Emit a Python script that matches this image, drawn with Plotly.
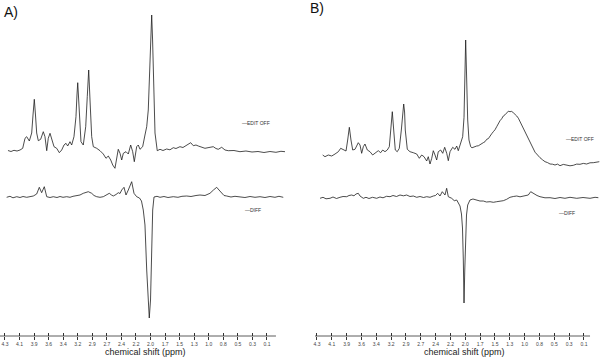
import plotly.graph_objects as go

FONT = "Liberation Sans, Arial, sans-serif"

# ---------------- data ----------------
tick_pos = [4.300, 4.067, 3.833, 3.600, 3.367, 3.133, 2.900, 2.667, 2.433, 2.200,
            1.967, 1.733, 1.500, 1.267, 1.033, 0.800, 0.567, 0.333, 0.100]
tick_labels = ["4.3", "4.1", "3.9", "3.6", "3.4", "3.2", "2.9", "2.7", "2.4", "2.2",
               "2.0", "1.7", "1.5", "1.3", "1.0", "0.8", "0.5", "0.3", "0.1"]

# Panel A, EDIT OFF spectrum (ppm, a.u.)
a_edit_ppm = [4.252, 4.204, 4.156, 4.107, 4.059, 4.016, 3.979, 3.952, 3.910, 3.872,
              3.851, 3.830, 3.811, 3.792, 3.766, 3.728, 3.686, 3.659, 3.631, 3.606,
              3.578, 3.551, 3.514, 3.471, 3.429, 3.391, 3.354, 3.322, 3.295, 3.258,
              3.231, 3.194, 3.162, 3.146, 3.134, 3.123, 3.109, 3.082, 3.045, 3.006,
              2.981, 2.958, 2.937, 2.910, 2.884, 2.830, 2.777, 2.724, 2.681, 2.644,
              2.605, 2.573, 2.537, 2.509, 2.484, 2.456, 2.429, 2.403, 2.360, 2.323,
              2.285, 2.253, 2.227, 2.189, 2.163, 2.136, 2.093, 2.056, 2.028, 2.003,
              1.984, 1.964, 1.948, 1.934, 1.919, 1.895, 1.859, 1.815, 1.767, 1.708,
              1.655, 1.602, 1.559, 1.495, 1.447, 1.387, 1.323, 1.281, 1.238, 1.201,
              1.142, 1.094, 1.030, 0.961, 0.918, 0.881, 0.826, 0.773, 0.720, 0.629,
              0.533, 0.437, 0.340, 0.244, 0.148, 0.052, -0.044, -0.124, -0.189]
a_edit_int = [0.5, -0.5, 0.7, 0.0, 1.0, 2.7, 12.7, 14.3, 10.0, 18.0,
              36.0, 51.7, 36.0, 18.0, 10.3, 11.7, 19.3, 14.3, 0.3, 12.7,
              17.7, 12.7, 4.3, 2.7, -1.7, 1.0, 6.0, 7.7, 5.0, 9.3,
              6.0, 14.3, 34.3, 56.0, 68.3, 56.0, 37.7, 9.3, 6.0, 24.3,
              54.3, 81.0, 51.0, 14.3, 4.3, 2.7, 0.3, -3.0, -7.3, -5.0,
              -9.0, -14.0, -17.3, -9.0, 1.7, -2.3, -9.0, -2.3, -0.7, -3.0,
              6.0, -0.7, -10.7, 4.3, 6.0, 1.7, 4.3, 16.0, 24.3, 41.0,
              81.0, 116.0, 136.0, 111.0, 68.0, 18.0, 0.3, 1.7, 0.5, 2.0,
              1.2, 3.3, 2.5, 4.3, 3.5, 6.0, 8.3, 5.3, 6.0, 5.0,
              3.5, 2.7, 3.5, 4.3, 2.5, 1.7, 3.7, 1.0, 0.3, 0.5,
              -0.7, 0.0, -1.0, -0.5, -1.5, -0.5, -1.3, -0.3, -0.7]

# Panel A, DIFF spectrum
a_diff_ppm = [4.273, 4.220, 4.172, 4.112, 4.059, 4.011, 3.952, 3.899, 3.846, 3.792,
              3.750, 3.712, 3.670, 3.631, 3.578, 3.526, 3.466, 3.418, 3.370, 3.311,
              3.258, 3.210, 3.151, 3.098, 3.045, 3.001, 2.965, 2.910, 2.873, 2.830,
              2.777, 2.724, 2.673, 2.628, 2.593, 2.564, 2.520, 2.484, 2.456, 2.429,
              2.392, 2.360, 2.323, 2.296, 2.269, 2.232, 2.189, 2.144, 2.112, 2.083,
              2.056, 2.028, 2.008, 1.987, 1.967, 1.956, 1.943, 1.932, 1.911, 1.863,
              1.815, 1.751, 1.687, 1.602, 1.527, 1.463, 1.387, 1.318, 1.238, 1.174,
              1.094, 1.014, 0.958, 0.906, 0.869, 0.826, 0.789, 0.746, 0.677, 0.613,
              0.533, 0.453, 0.372, 0.292, 0.212, 0.132, 0.052, -0.028, -0.092, -0.161]
a_diff_int = [-0.3, 0.7, -0.8, 0.3, -0.5, 0.5, -0.3, 0.5, 1.0, 3.0,
              9.7, 4.3, 10.3, 0.3, -0.5, 0.3, -0.5, 0.5, -0.3, 0.3,
              -0.3, 0.7, 1.0, 2.0, 3.7, 4.5, 5.3, 3.7, 1.5, 0.3,
              -0.3, 0.3, 2.0, 3.7, 2.0, 1.0, 2.5, 4.3, 3.5, 7.0,
              9.7, 2.0, 7.0, 12.0, 15.3, 3.7, 0.3, -1.0, -4.0, -13.0,
              -28.0, -73.0, -98.0, -121.0, -103.0, -73.0, -38.0, -13.0, 0.0, 0.7,
              -0.3, 0.5, -0.5, 0.3, -0.3, 0.7, 1.0, 0.5, 1.5, 2.0,
              1.5, 3.7, 7.0, 9.7, 7.0, 3.7, 1.5, 1.0, 0.0, 0.7,
              0.3, -0.5, 0.5, -0.3, 0.3, -0.5, 0.5, -0.3, 0.7, -0.3]

# Panel B, EDIT OFF spectrum
b_edit_ppm = [4.210, 4.174, 4.122, 4.068, 4.016, 3.964, 3.927, 3.886, 3.843, 3.817,
              3.791, 3.765, 3.738, 3.702, 3.650, 3.623, 3.597, 3.571, 3.545, 3.508,
              3.466, 3.424, 3.387, 3.336, 3.298, 3.266, 3.230, 3.194, 3.162, 3.135,
              3.115, 3.093, 3.068, 3.037, 3.005, 2.973, 2.951, 2.936, 2.922, 2.911,
              2.879, 2.837, 2.785, 2.731, 2.690, 2.653, 2.616, 2.574, 2.549, 2.522,
              2.495, 2.470, 2.443, 2.417, 2.392, 2.354, 2.322, 2.291, 2.259, 2.234,
              2.207, 2.165, 2.129, 2.102, 2.077, 2.039, 2.008, 1.987, 1.972, 1.961,
              1.945, 1.929, 1.909, 1.882, 1.862, 1.841, 1.815, 1.788, 1.762, 1.736,
              1.710, 1.684, 1.657, 1.630, 1.604, 1.578, 1.552, 1.526, 1.500, 1.473,
              1.447, 1.421, 1.395, 1.369, 1.342, 1.316, 1.290, 1.264, 1.238, 1.212,
              1.185, 1.158, 1.132, 1.106, 1.080, 1.054, 1.027, 1.001, 0.975, 0.949,
              0.923, 0.897, 0.870, 0.844, 0.818, 0.792, 0.752, 0.713, 0.673, 0.634,
              0.595, 0.556, 0.516, 0.477, 0.425, 0.372, 0.320, 0.268, 0.215, 0.163,
              0.110, 0.058, 0.005, -0.047, -0.095, -0.141]
b_edit_int = [10.0, 8.3, 10.0, 9.0, 11.0, 13.3, 16.7, 15.7, 14.0, 25.0,
              37.7, 25.0, 15.0, 15.7, 22.3, 20.0, 11.7, 18.3, 21.0, 15.0,
              13.3, 10.0, 11.7, 14.3, 12.3, 15.0, 13.3, 15.0, 18.3, 35.0,
              53.3, 35.0, 15.0, 13.3, 16.7, 35.0, 53.0, 61.0, 53.0, 35.0,
              15.7, 13.3, 12.3, 11.0, 6.7, 10.0, 8.3, 4.0, 8.3, 1.0,
              6.7, 14.3, 10.0, 5.0, 13.3, 15.0, 11.7, 17.7, 11.7, 4.3,
              13.3, 17.7, 15.7, 19.0, 14.3, 21.7, 28.3, 47.7, 85.0, 125.0,
              85.0, 45.0, 25.0, 18.3, 17.2, 17.7, 18.9, 19.0, 19.2, 20.0,
              21.6, 22.3, 23.3, 25.7, 26.4, 28.3, 31.2, 33.3, 35.2, 38.3,
              42.0, 44.3, 46.2, 49.0, 50.2, 51.7, 53.8, 53.3, 53.6, 52.3,
              50.8, 49.0, 46.8, 43.3, 40.4, 36.7, 33.2, 29.0, 25.9, 21.7,
              18.8, 15.7, 12.8, 11.0, 8.5, 7.3, 5.2, 3.3, 2.4, 1.0,
              0.8, 0.0, 0.9, -0.7, 0.6, 0.0, -0.8, -0.3, 0.9, 0.7,
              1.6, 1.0, 2.2, 2.3, 2.6, 3.3]

# Panel B, DIFF spectrum
b_diff_ppm = [4.252, 4.205, 4.158, 4.095, 4.048, 3.993, 3.938, 3.890, 3.832, 3.796,
              3.754, 3.718, 3.686, 3.650, 3.623, 3.571, 3.529, 3.482, 3.427, 3.361,
              3.309, 3.261, 3.206, 3.151, 3.104, 3.049, 2.994, 2.939, 2.889, 2.837,
              2.785, 2.731, 2.679, 2.624, 2.574, 2.522, 2.470, 2.436, 2.401, 2.365,
              2.329, 2.286, 2.260, 2.234, 2.181, 2.140, 2.102, 2.077, 2.050, 2.027,
              2.011, 1.998, 1.987, 1.975, 1.961, 1.948, 1.929, 1.893, 1.846, 1.788,
              1.736, 1.684, 1.634, 1.578, 1.526, 1.473, 1.421, 1.369, 1.316, 1.264,
              1.212, 1.158, 1.106, 1.054, 1.012, 0.976, 0.938, 0.886, 0.839, 0.792,
              0.713, 0.634, 0.556, 0.477, 0.399, 0.320, 0.214, 0.115, 0.005, -0.074,
              -0.126]
b_diff_int = [-0.3, 0.7, -0.8, -0.3, 1.0, -0.5, 0.7, 1.5, 1.3, 2.5,
              3.0, 2.2, 4.0, 4.7, 2.0, -0.3, 0.7, -0.5, 0.7, -0.3,
              1.0, 0.2, 1.7, 1.3, 2.5, 1.5, 3.0, 2.2, 3.0, 1.5,
              2.0, 0.7, 1.5, 0.5, 1.3, 0.7, 2.0, 2.5, 4.7, 2.0,
              6.3, 3.0, 9.7, 1.3, -0.3, -2.7, -2.0, -5.3, -8.0, -16.0,
              -30.0, -62.0, -105.0, -72.0, -42.0, -17.0, -7.0, -2.0, -1.0, -2.0,
              -3.0, -3.0, -4.0, -3.7, -4.3, -3.7, -3.5, -2.7, -1.3, 0.7,
              1.5, 2.0, 1.2, 2.0, 2.7, 3.0, 6.3, 4.0, 2.5, 1.3,
              0.2, 0.3, -0.5, 0.5, -0.3, 0.7, -0.3, 0.5, -0.3, 0.7,
              0.3]

# ---------------- layout constants (pixels) ----------------
W, H = 600, 359
PLOT_H = 336          # plot area height (x axis sits at the bottom)
OFF_A_EDIT, OFF_A_DIFF = 185, 139
OFF_B_EDIT, OFF_B_DIFF = 171, 138
LINE = dict(color="#1e1e1e", width=0.8)

fig = go.Figure()
for xs, ys, off, ax in [(a_edit_ppm, a_edit_int, OFF_A_EDIT, "x"),
                        (a_diff_ppm, a_diff_int, OFF_A_DIFF, "x"),
                        (b_edit_ppm, b_edit_int, OFF_B_EDIT, "x2"),
                        (b_diff_ppm, b_diff_int, OFF_B_DIFF, "x2")]:
    fig.add_trace(go.Scatter(x=xs, y=[v + off for v in ys], mode="lines",
                             line=LINE, xaxis=ax, yaxis="y", hoverinfo="skip"))
# empty traces to activate the overlay axes (inside tick halves)
for ax in ["x3", "x4"]:
    fig.add_trace(go.Scatter(x=[None], y=[None], xaxis=ax, yaxis="y", hoverinfo="skip"))

RANGE_A = [4.380, -0.237]
RANGE_B = [4.331, -0.152]
common = dict(tickmode="array", tickvals=tick_pos, ticktext=tick_labels,
              ticklen=3, tickwidth=0.8, tickcolor="#333",
              tickfont=dict(size=5, color="#444", family=FONT),
              showgrid=False, zeroline=False, showline=False, anchor="y",
              fixedrange=True, automargin=False)

fig.update_layout(
    width=W, height=H, margin=dict(l=0, r=0, t=0, b=H - PLOT_H, pad=0, autoexpand=False),
    paper_bgcolor="white", plot_bgcolor="white", showlegend=False,
    xaxis=dict(domain=[0, 0.48], range=RANGE_A, ticks="outside", **common),
    xaxis2=dict(domain=[0.525, 1.0], range=RANGE_B, ticks="outside", **common),
    xaxis3=dict(overlaying="x", range=RANGE_A, ticks="inside", showticklabels=False,
                **{k: v for k, v in common.items() if k != "tickfont"}),
    xaxis4=dict(overlaying="x2", range=RANGE_B, ticks="inside", showticklabels=False,
                **{k: v for k, v in common.items() if k != "tickfont"}),
    yaxis=dict(domain=[0, 1], range=[0, PLOT_H], visible=False, fixedrange=True),
)

# axis lines
fig.add_shape(type="line", xref="x", yref="paper", x0=4.380, x1=-0.044, y0=0, y1=0,
              line=dict(color="#333", width=0.8))
fig.add_shape(type="line", xref="x2", yref="paper", x0=4.331, x1=0.005, y0=0, y1=0,
              line=dict(color="#333", width=0.8))

def py(p):
    return (PLOT_H - p) / PLOT_H

ann = []
# axis titles
for xc in [145, 464]:
    ann.append(dict(text="chemical shift (ppm)", x=xc / W, y=0, xref="paper", yref="paper",
                    yshift=-16, xanchor="center", yanchor="middle", showarrow=False,
                    font=dict(size=9, color="#222", family=FONT)))
# panel letters
ann.append(dict(text="A)", x=2 / W, y=py(12), xref="paper", yref="paper", xanchor="left",
                yanchor="middle", showarrow=False, font=dict(size=14, color="#111", family=FONT)))
ann.append(dict(text="B)", x=308 / W, y=py(8), xref="paper", yref="paper", xanchor="left",
                yanchor="middle", showarrow=False, font=dict(size=14, color="#111", family=FONT)))
# trace labels
for txt, xp, ypx in [("\u2014EDIT OFF", 240, 123), ("\u2014DIFF", 243, 210),
                     ("\u2014EDIT OFF", 564, 139), ("\u2014DIFF", 557, 213)]:
    ann.append(dict(text=txt, x=xp / W, y=py(ypx), xref="paper", yref="paper",
                    xanchor="left", yanchor="middle", showarrow=False,
                    font=dict(size=5, color="#333", family=FONT)))
fig.update_layout(annotations=ann)

fig.write_html("out.html", config={"displayModeBar": False},
               post_script="document.body.style.margin='0';document.body.style.overflow='hidden';")
